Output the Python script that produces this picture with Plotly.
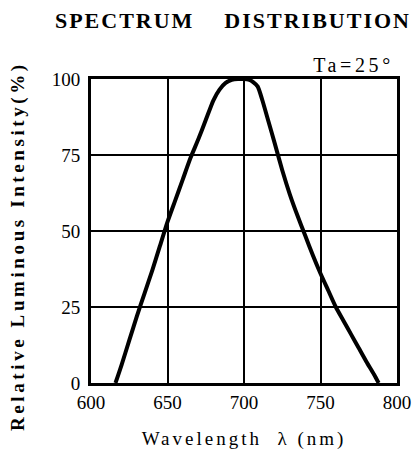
import plotly.graph_objects as go

wavelength = [616, 620, 625, 630, 635, 640, 645, 650, 655, 660, 665, 670, 675, 680,
              684, 688, 692, 696, 700, 703, 706, 709, 712, 716, 720, 725, 730, 735,
              740, 745, 750, 755, 760, 765, 770, 775, 780, 785, 788]
intensity = [0, 6, 14, 22, 29.5, 37, 45, 53, 60, 67, 74, 80, 86.5, 93,
             96.5, 98.7, 99.7, 100, 100, 99.8, 99, 97.5, 93, 86, 79, 70, 62, 55,
             48.5, 42, 36, 30.5, 25, 20.5, 16, 11.5, 7, 2.8, 0]
x_ticks = [600, 650, 700, 750, 800]
y_ticks = [0, 25, 50, 75, 100]

SERIF = "Liberation Serif"

fig = go.Figure()
fig.add_trace(go.Scatter(x=wavelength, y=intensity, mode="lines",
                         line=dict(color="black", width=4, shape="spline", smoothing=0.6),
                         hoverinfo="skip"))

fig.update_layout(
    width=419, height=458,
    margin=dict(l=91, r=22, t=79, b=75),
    paper_bgcolor="white", plot_bgcolor="white",
    showlegend=False,
    font=dict(family=SERIF, color="black", size=19),
    title=dict(text="SPECTRUM\u00a0\u00a0\u00a0\u00a0DISTRIBUTION", x=0.556, xanchor="center",
               y=0.956, yanchor="middle",
               font=dict(family=SERIF, size=22, color="black", weight="bold")),
)

fig.update_xaxes(range=[600, 800], tickvals=x_ticks, ticktext=[str(v) for v in x_ticks],
                 showgrid=True, gridcolor="black", gridwidth=2,
                 showline=True, linecolor="black", linewidth=3, mirror=True,
                 ticks="", zeroline=False, tickfont=dict(size=19), ticklabelstandoff=0,
                 automargin=False,
                 title=dict(text="Wavelength\u00a0\u00a0λ (nm)", font=dict(size=19), standoff=20))
fig.update_yaxes(range=[0, 100], tickvals=y_ticks, ticktext=[str(v) for v in y_ticks],
                 showgrid=True, gridcolor="black", gridwidth=2,
                 showline=True, linecolor="black", linewidth=3, mirror=True,
                 ticks="", zeroline=False, tickfont=dict(size=19), ticklabelstandoff=4,
                 automargin=False)

fig.add_annotation(text="Relative Luminous Intensity(%)", xref="paper", yref="paper",
                   x=(18 - 91) / 306, y=(383 - 246) / 304, xanchor="center", yanchor="middle",
                   textangle=-90, showarrow=False,
                   font=dict(family=SERIF, size=19, color="black", weight="bold"))
fig.add_annotation(text="Ta=25°", xref="paper", yref="paper", x=(385 - 91) / 306,
                   y=(383 - 65) / 304, xanchor="right", yanchor="middle", showarrow=False,
                   font=dict(family=SERIF, size=20, color="black"))

post = """
document.body.style.margin = '0';
document.body.style.padding = '0';
var gd = document.getElementById('{plot_id}');
function ls(){
  var m = [['.g-gtitle text', '2px'], ['.g-xtitle text', '3px'],
           ['.annotation-text', '3.6px']];
  m.forEach(function(p){ document.querySelectorAll(p[0]).forEach(function(e){ e.style.letterSpacing = p[1]; }); });
  var a = document.querySelectorAll('.annotation-text');
  if (a.length) { a[0].style.letterSpacing = '3.6px'; }
}
ls();
gd.on('plotly_afterplot', ls);
"""
fig.write_html("out.html", post_script=post, config={"displayModeBar": False})
